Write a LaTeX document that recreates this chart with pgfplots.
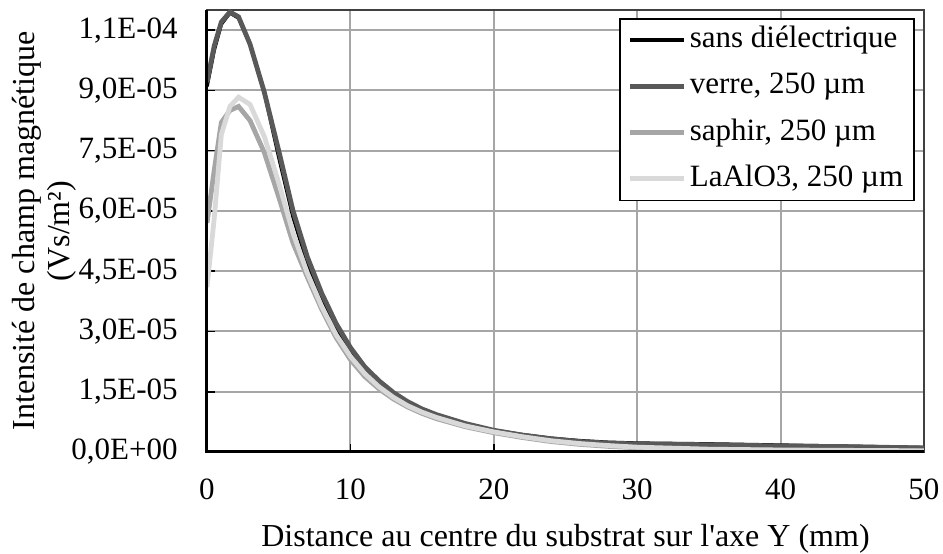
\documentclass[border=0pt]{standalone}
\usepackage{pgfplots}
\pgfplotsset{compat=1.18}
\usepackage{pgfplotstable}
\usepackage{fontspec}
\setmainfont{Liberation Serif}

\definecolor{verre}{HTML}{595959}
\definecolor{saphir}{HTML}{A6A6A6}
\definecolor{laalo}{HTML}{D9D9D9}
\definecolor{cadre}{HTML}{404040}

% x en mm, champ en Vs/m^2
\pgfplotstableread{
x    sans      verre     saphir    laalo
0    9.10e-5   9.20e-5   5.70e-5   4.10e-5
0.5  1.00e-4   1.01e-4   7.00e-5   5.80e-5
1.0  1.065e-4  1.07e-4   8.20e-5   7.90e-5
1.6  1.093e-4  1.095e-4  8.50e-5   8.60e-5
2.2  1.08e-4   1.083e-4  8.60e-5   8.83e-5
3    1.015e-4  1.015e-4  8.25e-5   8.65e-5
4    8.95e-5   8.95e-5   7.45e-5   7.85e-5
5    7.35e-5   7.50e-5   6.35e-5   6.70e-5
6    5.85e-5   6.00e-5   5.20e-5   5.45e-5
7    4.70e-5   4.85e-5   4.35e-5   4.45e-5
8    3.85e-5   3.95e-5   3.55e-5   3.62e-5
9    3.10e-5   3.20e-5   2.85e-5   2.92e-5
10   2.50e-5   2.60e-5   2.30e-5   2.38e-5
11   2.05e-5   2.12e-5   1.88e-5   1.95e-5
12   1.72e-5   1.77e-5   1.57e-5   1.62e-5
13   1.45e-5   1.48e-5   1.32e-5   1.36e-5
14   1.22e-5   1.25e-5   1.12e-5   1.15e-5
15   1.05e-5   1.07e-5   9.60e-6   9.90e-6
16   9.10e-6   9.30e-6   8.30e-6   8.60e-6
18   7.00e-6   7.10e-6   6.30e-6   6.50e-6
20   5.40e-6   5.40e-6   4.80e-6   5.00e-6
22   4.30e-6   4.20e-6   3.60e-6   3.80e-6
24   3.40e-6   3.30e-6   2.60e-6   2.80e-6
26   2.80e-6   2.60e-6   1.90e-6   2.10e-6
28   2.40e-6   2.20e-6   1.40e-6   1.60e-6
30   2.20e-6   2.00e-6   1.05e-6   1.20e-6
35   2.00e-6   1.80e-6   6.00e-7   7.00e-7
40   1.70e-6   1.50e-6   4.00e-7   5.00e-7
45   1.40e-6   1.30e-6   3.00e-7   4.00e-7
50   1.10e-6   1.00e-6   2.00e-7   3.00e-7
}\champ

\begin{document}
\begin{tikzpicture}
\begin{axis}[
    scale only axis,
    width=358.5pt, height=221pt,
    xmin=0, xmax=50, ymin=0, ymax=1.1e-4,
    xtick={0,10,20,30,40,50},
    xticklabels={0,10,20,30,40,50},
    ytick={0,1.5e-5,3e-5,4.5e-5,6e-5,7.5e-5,9e-5,1.05e-4},
    yticklabels={{0,0E+00},{1,5E-05},{3,0E-05},{4,5E-05},{6,0E-05},{7,5E-05},{9,0E-05},{1,1E-04}},
    scaled y ticks=false,
    xtick pos=bottom, ytick pos=left,
    tick align=inside,
    major tick length=4pt,
    tick style={black, line width=0.8pt},
    grid=major,
    grid style={color=black!35, line width=1pt},
    axis line style={draw=cadre, line width=1.2pt},
    clip mode=individual,
    tick label style={font=\fontsize{15.5}{18}\selectfont, inner sep=0pt},
    xticklabel style={anchor=base, yshift=-24pt},
    yticklabel style={anchor=east, xshift=-14.5pt},
    xlabel={Distance au centre du substrat sur l\textquotesingle axe Y (mm)},
    xlabel style={font=\fontsize{16}{17.5}\selectfont, inner sep=0pt,
        at={([yshift=-47.5pt]axis description cs:0.5,0)}, anchor=base},
    ylabel={Intensité de champ magnétique\\(Vs/m²)},
    ylabel style={font=\fontsize{16}{17.5}\selectfont, align=center, inner sep=0pt,
        at={([xshift=-65pt]axis description cs:0,0.5)}, anchor=south},
    legend style={at={(1,1)}, anchor=north east, xshift=-4.5pt, yshift=-4pt,
        draw=black, line width=0.8pt,
        font=\fontsize{15.5}{18}\selectfont,
        cells={anchor=west},
        inner xsep=4pt, inner ysep=2pt,
        row sep=5.6pt,
        nodes={text height=11pt, text depth=3.5pt, inner sep=1.5pt}},
    legend image code/.code={\draw[#1] (0pt,0pt) -- (27pt,0pt);},
]
\addplot[black, line width=1.8pt] table[x=x, y=sans] {\champ};
\addlegendentry{sans diélectrique}
\addplot[verre, line width=2.4pt] table[x=x, y=verre] {\champ};
\addlegendentry{verre, 250 µm}
\addplot[saphir, line width=2.4pt] table[x=x, y=saphir] {\champ};
\addlegendentry{saphir, 250 µm}
\addplot[laalo, line width=2.4pt] table[x=x, y=laalo] {\champ};
\addlegendentry{LaAlO3, 250 µm}

\draw[black, line width=1.5pt] (rel axis cs:0,1) -- (rel axis cs:0,0) -- (rel axis cs:1,0);
\end{axis}
\path ([xshift=-103.5pt, yshift=-49.5pt]current axis.south west)
    rectangle ([xshift=9.5pt, yshift=5pt]current axis.north east);
\end{tikzpicture}
\end{document}
